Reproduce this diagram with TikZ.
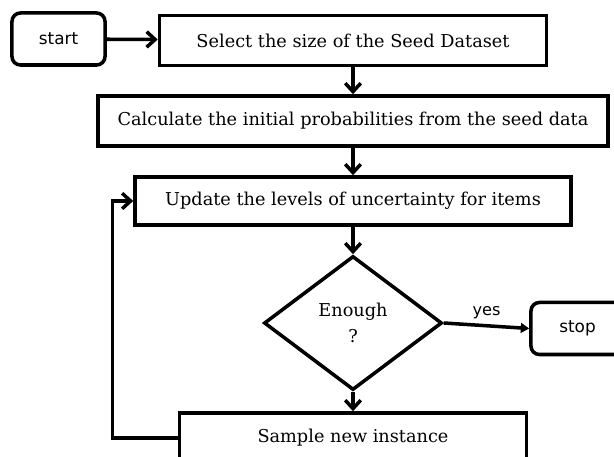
\documentclass[tikz,border=0pt]{standalone}
\usepackage{fontspec}
\setmainfont{DejaVu Serif}
\newfontfamily\labelfont{DejaVu Sans}
\usetikzlibrary{shapes.geometric,arrows.meta}
\begin{document}
\begin{tikzpicture}[x=0.025cm,y=-0.025cm,line width=2.5pt,
  box/.style={draw,rectangle,minimum height=1.25cm,font=\fontsize{12.6}{14}\selectfont},
  rbox/.style={draw,rectangle,rounded corners=6pt,minimum width=2.325cm,minimum height=1.3cm,font=\labelfont\fontsize{12}{14}\selectfont},
  dia/.style={draw,diamond,minimum width=4.45cm,minimum height=3.35cm,inner sep=0pt,align=center,font=\fontsize{12.6}{19}\selectfont},
  flow/.style={-{Straight Barb[length=6pt,width=11pt]}}]
\useasboundingbox (0,0) rectangle (614,457);
\clip (0,0) rectangle (614,457);

\node[rbox] (start) at (58.5,39) {start};
\node[box,minimum width=9.675cm] (sel) at (353,40.5) {Select the size of the Seed Dataset};
\node[box,minimum width=12.75cm] (calc) at (353,121) {Calculate the initial probabilities from the seed data};
\node[box,minimum width=10.9cm,minimum height=1.2cm] (upd) at (353,201) {Update the levels of uncertainty for items};
\node[dia] (enough) at (353,323) {Enough\\?};
\node[rbox] (stop) at (577.5,328.5) {stop};
\node[box,minimum width=8.675cm] (sample) at (353,438) {Sample new instance};

\draw[flow] (start) -- (sel);
\draw[flow] (sel) -- (calc);
\draw[flow] (calc) -- (upd);
\draw[flow] (upd) -- (enough);
\draw[-{Triangle[length=6pt,width=7pt]}] (enough.east) -- node[above,font=\labelfont\fontsize{11.5}{13}\selectfont] {yes} (stop.west);
\draw[flow] (enough) -- (sample);
\draw[flow] (sample.west) -- ++(-65,0) |- (upd.west);

\end{tikzpicture}
\end{document}
